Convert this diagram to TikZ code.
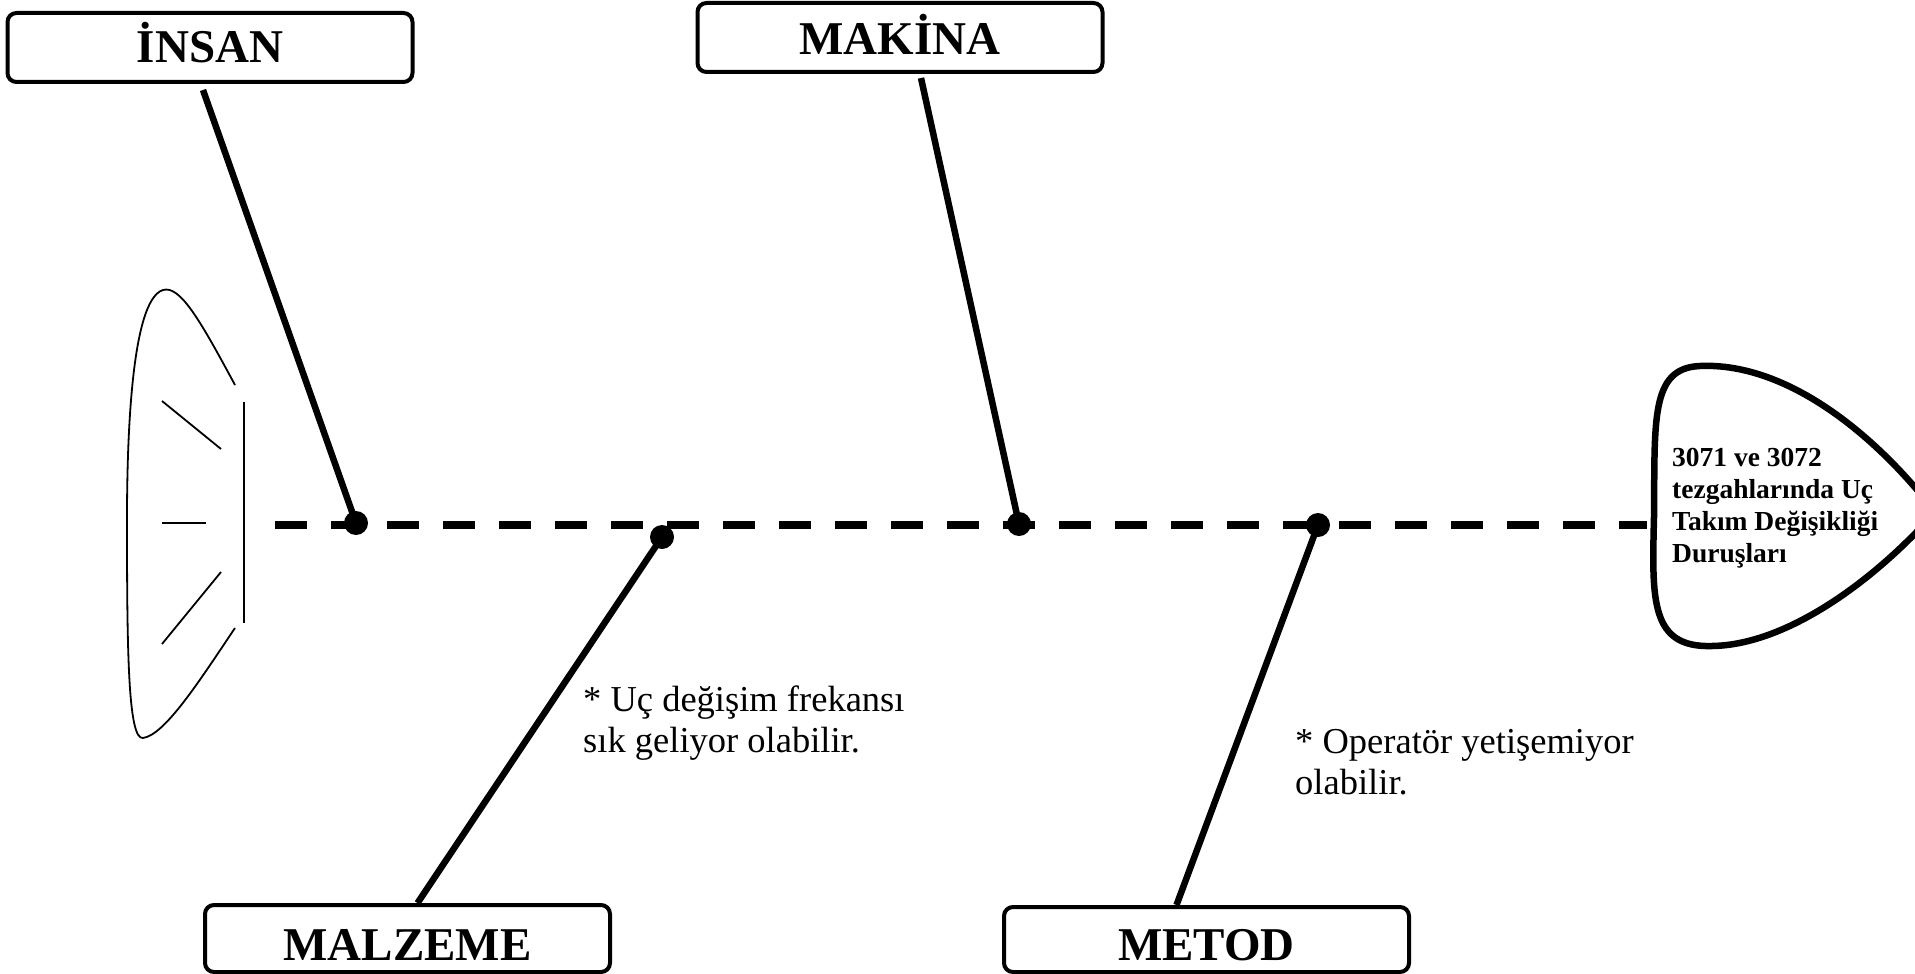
\documentclass[tikz,border=0pt]{standalone}
\usepackage{fontspec}
\setmainfont{Liberation Serif}
\begin{document}
\begin{tikzpicture}[x=1pt,y=-1pt,
  box/.style={draw, line width=4pt, rounded corners=9pt, inner sep=0pt, minimum width=405pt, font=\fontsize{47}{56}\selectfont\bfseries},
  bone/.style={line width=6.5pt},
  spine/.style={line width=8pt, dash pattern=on 32pt off 24pt},
  dot/.style={circle, fill=black, inner sep=0pt, minimum size=24pt},
  note/.style={font=\fontsize{36.5}{41}\selectfont, align=left, anchor=base west, inner sep=0pt},
  headtext/.style={font=\fontsize{27.5}{31.7}\selectfont\bfseries, align=left, anchor=base west, inner sep=0pt},
  tailline/.style={line width=1.8pt}]
\useasboundingbox (0,0) rectangle (1915,974);
\clip (0,0) rectangle (1915,974);

% category boxes
\node[box, minimum height=69pt, text height=31pt, text depth=0pt] (insan) at (210,47.5) {İNSAN};
\node[box, minimum height=69pt, text height=35pt, text depth=0pt] (makina) at (900,37.5) {MAKİNA};
\node[box, minimum height=67pt, text height=44pt, text depth=0pt] (malzeme) at (407.5,938.5) {MALZEME};
\node[box, minimum height=65pt, text height=42pt, text depth=0pt] (metod) at (1206.5,939.5) {METOD};

% spine
\coordinate (s0) at (275,525);
\coordinate (s1) at (1647,525);
\draw[spine] (s0) -- (s1);

% joints
\node[dot] (d1) at (356,523) {};
\node[dot] (d2) at (662,537) {};
\node[dot] (d3) at (1019,524) {};
\node[dot] (d4) at (1318,525) {};

% bones
\draw[bone] ([shift={(-7,6)}]insan.south) -- (d1.center);
\draw[bone] ([shift={(21,4)}]makina.south) -- (d3.center);
\draw[bone] (d2.center) -- ([xshift=10pt]malzeme.north);
\draw[bone] (d4.center) -- ([xshift=-30pt]metod.north);

% head
\draw[line width=6.5pt, line join=round] (1700,366) .. controls (1790,362) and (1880,440) .. (1935,512)
  .. controls (1880,575) and (1790,645) .. (1712,646)
  .. controls (1650,648) and (1652,600) .. (1654,517)
  .. controls (1655,420) and (1650,368) .. (1700,366) -- cycle;
\node[headtext] (head) at (1672,562) {3071 ve 3072\\tezgahlarında Uç\\Takım Değişikliği\\Duruşları};

% tail
\draw[tailline] (235,385) .. controls (200,320) and (180,285) .. (163,290)
  .. controls (130,300) and (127,450) .. (127,520)
  .. controls (127,650) and (128,740) .. (143,738)
  .. controls (165,735) and (200,680) .. (235,628);
\draw[tailline] (244,402) -- (244,623);
\draw[tailline] (162,401) -- (221,449);
\draw[tailline] (162,523) -- (206,523);
\draw[tailline] (162,644) -- (221,572);

% notes
\node[note] (n1) at (583,752) {* Uç değişim frekansı\\sık geliyor olabilir.};
\node[note] (n2) at (1295,794) {* Operatör yetişemiyor\\olabilir.};
\end{tikzpicture}
\end{document}
